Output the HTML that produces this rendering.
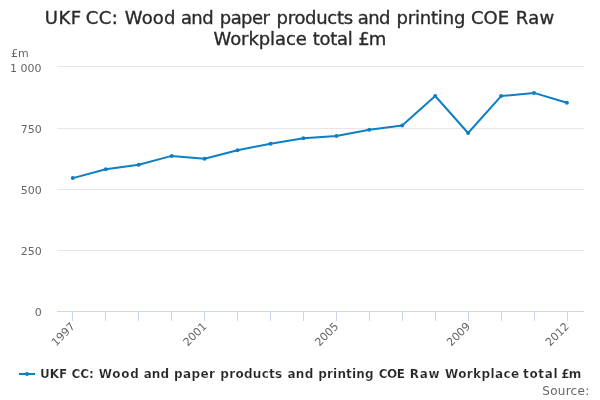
<!DOCTYPE html>
<html><head><meta charset="utf-8">
<style>
html,body{margin:0;padding:0;background:#fff;}
svg{display:block;font-family:"DejaVu Sans","Liberation Sans",sans-serif;}
</style></head>
<body>
<svg width="600" height="400" viewBox="0 0 600 400">
<rect x="0" y="0" width="600" height="400" fill="#ffffff"/>
<g stroke="#e6e6e6" stroke-width="1" fill="none">
<path d="M57 66.5H584"/>
<path d="M57 128.5H584"/>
<path d="M57 189.5H584"/>
<path d="M57 250.5H584"/>
</g>
<path d="M57 311.5H584" stroke="#ccd6eb" stroke-width="1" fill="none"/>
<g stroke="#ccd6eb" stroke-width="1" fill="none">
<path d="M72.5 311V321"/><path d="M105.5 311V321"/><path d="M138.5 311V321"/><path d="M171.5 311V321"/>
<path d="M204.5 311V321"/><path d="M237.5 311V321"/><path d="M270.5 311V321"/><path d="M303.5 311V321"/>
<path d="M336.5 311V321"/><path d="M369.5 311V321"/><path d="M402.5 311V321"/><path d="M435.5 311V321"/>
<path d="M468.5 311V321"/><path d="M501.5 311V321"/><path d="M534.5 311V321"/><path d="M567.5 311V321"/>
</g>
<text id="title" y="24" font-size="18" fill="#2b2b2b" stroke="#2b2b2b" stroke-width="0.35"><tspan x="44.73" y="24" textLength="36.35" lengthAdjust="spacing">UKF</tspan> <tspan x="85.73" y="24" textLength="32.0" lengthAdjust="spacing">CC:</tspan> <tspan x="124.75" y="24" textLength="50.6" lengthAdjust="spacing">Wood</tspan> <tspan x="180.88" y="24" textLength="32.8" lengthAdjust="spacing">and</tspan> <tspan x="219.8" y="24" textLength="50.0" lengthAdjust="spacing">paper</tspan> <tspan x="276.53" y="24" textLength="76.6" lengthAdjust="spacing">products</tspan> <tspan x="357.81" y="24" textLength="32.7" lengthAdjust="spacing">and</tspan> <tspan x="396.45" y="24" textLength="68.9" lengthAdjust="spacing">printing</tspan> <tspan x="471.05" y="24">COE</tspan> <tspan x="515.63" y="24" textLength="38.7" lengthAdjust="spacing">Raw</tspan> <tspan x="213.5" y="45" textLength="93.3" lengthAdjust="spacing">Workplace</tspan> <tspan x="312.8" y="45" textLength="39.9" lengthAdjust="spacing">total</tspan> <tspan x="358.3" y="45" textLength="28.1" lengthAdjust="spacing">£m</tspan></text>
<path id="ln" d="M72.8 178.1L105.8 169.2L138.7 164.7L171.7 155.9L204.6 158.7L237.5 150.3L270.5 143.7L303.4 138.2L336.4 136.0L369.3 129.7L402.2 125.6L435.2 96.0L468.1 133.0L501.1 96.1L534.0 92.9L566.9 102.8" stroke="#0d7fc4" stroke-width="2" fill="none" stroke-linejoin="round" stroke-linecap="round"/>
<g id="mk" fill="#0d7fc4"><circle cx="72.8" cy="178.1" r="2"/><circle cx="105.8" cy="169.2" r="2"/><circle cx="138.7" cy="164.7" r="2"/><circle cx="171.7" cy="155.9" r="2"/><circle cx="204.6" cy="158.7" r="2"/><circle cx="237.5" cy="150.3" r="2"/><circle cx="270.5" cy="143.7" r="2"/><circle cx="303.4" cy="138.2" r="2"/><circle cx="336.4" cy="136.0" r="2"/><circle cx="369.3" cy="129.7" r="2"/><circle cx="402.2" cy="125.6" r="2"/><circle cx="435.2" cy="96.0" r="2"/><circle cx="468.1" cy="133.0" r="2"/><circle cx="501.1" cy="96.1" r="2"/><circle cx="534.0" cy="92.9" r="2"/><circle cx="566.9" cy="102.8" r="2"/></g>
<g font-size="11" fill="#666666">
<text x="11" y="57">£m</text>
<text x="41.4" y="72" text-anchor="end">1 000</text>
<text x="41.7" y="133" text-anchor="end">750</text>
<text x="41.7" y="194" text-anchor="end">500</text>
<text x="41.7" y="255" text-anchor="end">250</text>
<text x="41.7" y="316" text-anchor="end">0</text>
</g>
<g font-size="11" fill="#666666" text-anchor="end">
<text transform="translate(75.7,327) rotate(-45)">1997</text>
<text transform="translate(207.45,327) rotate(-45)">2001</text>
<text transform="translate(339.2,327) rotate(-45)">2005</text>
<text transform="translate(471.0,327) rotate(-45)">2009</text>
<text transform="translate(569.8,327) rotate(-45)">2012</text>
</g>
<path d="M19 374H35" stroke="#0d7fc4" stroke-width="2" fill="none"/>
<circle cx="27" cy="374" r="2" fill="#0d7fc4"/>
<text id="legend" y="378" font-size="12" font-weight="bold" fill="#262626" stroke="#ffffff" stroke-width="0.2"><tspan x="40.1" textLength="27.0" lengthAdjust="spacing">UKF</tspan> <tspan x="71.4" textLength="22.5" lengthAdjust="spacing">CC:</tspan> <tspan x="98.84" textLength="40.05" lengthAdjust="spacing">Wood</tspan> <tspan x="143.65" textLength="25.47" lengthAdjust="spacing">and</tspan> <tspan x="174" textLength="40.87" lengthAdjust="spacing">paper</tspan> <tspan x="220.3" textLength="61.98" lengthAdjust="spacing">products</tspan> <tspan x="287.45" textLength="25.87" lengthAdjust="spacing">and</tspan> <tspan x="318.2" textLength="55.46" lengthAdjust="spacing">printing</tspan> <tspan x="378.65" textLength="26.38" lengthAdjust="spacing">COE</tspan> <tspan x="409.8" textLength="29.67" lengthAdjust="spacing">Raw</tspan> <tspan x="444.94" textLength="74.2" lengthAdjust="spacing">Workplace</tspan> <tspan x="523" textLength="34.6" lengthAdjust="spacing">total</tspan> <tspan x="561.33" textLength="19.84" lengthAdjust="spacing">£m</tspan></text>
<text x="542.3" y="395" font-size="12" fill="#666666" textLength="46.9" lengthAdjust="spacing">Source:</text>
</svg>
</body></html>
